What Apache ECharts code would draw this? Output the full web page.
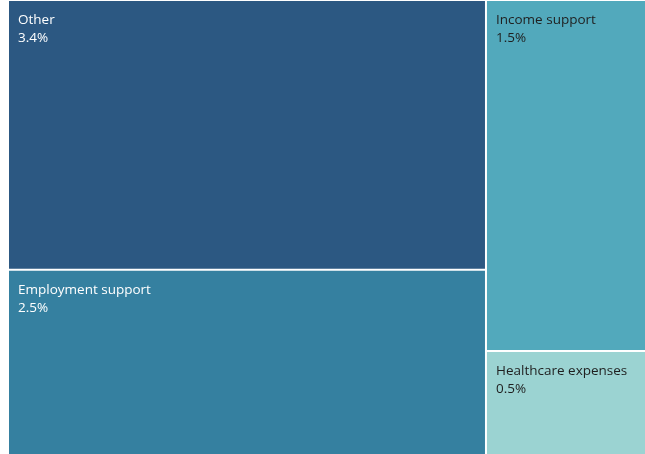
<!DOCTYPE html>
<html>
<head>
<meta charset="utf-8">
<script src="https://cdn.jsdelivr.net/npm/echarts@6/dist/echarts.min.js"></script>
<style>
  html, body { margin: 0; padding: 0; background: #fff; }
  #chart { width: 645px; height: 454px; }
</style>
</head>
<body>
<div id="chart"></div>
<script>
var categories = ['Other', 'Employment support', 'Income support', 'Healthcare expenses'];
var values = [3.4, 2.5, 1.5, 0.5];
var palette = ['#2c5882', '#3580a0', '#52a9bc', '#9bd3d2'];
var labelColors = ['#ffffff', '#ffffff', '#1f1f1f', '#1f1f1f'];

var chartDom = document.getElementById('chart');
var myChart = echarts.init(chartDom);

var data = categories.map(function (name, i) {
    return {
        name: name,
        value: values[i],
        itemStyle: { color: palette[i] },
        label: { color: labelColors[i] }
    };
});

var option = {
    animation: false,
    series: [
        {
            type: 'treemap',
            left: 9,
            top: 1,
            width: 638,
            height: 466,
            roam: false,
            nodeClick: false,
            sort: 'desc',
            breadcrumb: { show: false },
            itemStyle: {
                borderWidth: 0,
                gapWidth: 2,
                borderColor: '#fff'
            },
            label: {
                show: true,
                position: 'insideTopLeft',
                padding: [10, 9],
                fontFamily: 'Open Sans',
                fontSize: 13.5,
                lineHeight: 18,
                formatter: function (p) {
                    return p.name + '\n' + p.value.toFixed(1) + '%';
                }
            },
            emphasis: { disabled: true },
            data: data
        }
    ]
};

myChart.setOption(option);
</script>
</body>
</html>
